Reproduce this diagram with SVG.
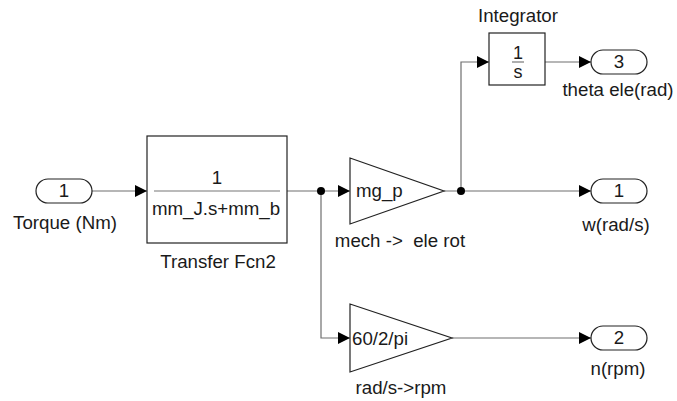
<svg xmlns="http://www.w3.org/2000/svg" width="677" height="401" viewBox="0 0 677 401">
<style>
text{font-family:"Liberation Sans",Arial,sans-serif;font-size:18.7px;fill:#1a1a1a}
.c{text-anchor:middle}
.blk{fill:#fff;stroke:#222;stroke-width:1.2}
.ln{fill:none;stroke:#6f6f6f;stroke-width:1.2}
.bar{stroke:#777;stroke-width:1.2}
</style>
<defs>
<marker id="ah" markerUnits="userSpaceOnUse" markerWidth="13" markerHeight="13" refX="12" refY="6.5" orient="auto">
<path d="M0,0.5 L12,6.5 L0,12.5 Z" fill="#000"/>
</marker>
</defs>
<rect width="677" height="401" fill="#fff"/>
<g id="connectors">
<path class="ln" d="M92,191 H147" marker-end="url(#ah)"/>
<path class="ln" d="M287,191 H350" marker-end="url(#ah)"/>
<path class="ln" d="M321,191 V338 H350" marker-end="url(#ah)"/>
<path class="ln" d="M444,191 H591" marker-end="url(#ah)"/>
<path class="ln" d="M461,191 V62 H489" marker-end="url(#ah)"/>
<path class="ln" d="M545,62 H591" marker-end="url(#ah)"/>
<path class="ln" d="M452,338 H591" marker-end="url(#ah)"/>
<circle cx="321" cy="191" r="4" fill="#000"/>
<circle cx="461" cy="191" r="4" fill="#000"/>
</g>
<g id="in1">
<rect class="blk" x="36" y="179" width="56" height="24" rx="12"/>
<text class="c" x="64" y="197">1</text>
<text class="c" x="65" y="229">Torque (Nm)</text>
</g>
<g id="tf">
<rect class="blk" x="147" y="136" width="140" height="107"/>
<text class="c" x="217" y="184">1</text>
<line class="bar" x1="154" y1="191" x2="280" y2="191"/>
<text class="c" x="216" y="215">mm_J.s+mm_b</text>
<text class="c" x="218" y="268">Transfer Fcn2</text>
</g>
<g id="gain1">
<path class="blk" d="M350,158 L444,191 L350,224 Z"/>
<text x="356" y="197">mg_p</text>
<text class="c" x="400" y="247" xml:space="preserve">mech -&gt;  ele rot</text>
</g>
<g id="integrator">
<rect class="blk" x="489" y="33" width="56" height="52"/>
<text class="c" x="518" y="59" style="font-size:18px">1</text>
<line class="bar" x1="512" y1="62" x2="524" y2="62"/>
<text class="c" x="518" y="78" style="font-size:18px">s</text>
<text class="c" x="518" y="22">Integrator</text>
</g>
<g id="out3">
<rect class="blk" x="591" y="50" width="56" height="24" rx="12"/>
<text class="c" x="619" y="68">3</text>
<text class="c" x="618" y="96">theta ele(rad)</text>
</g>
<g id="out1">
<rect class="blk" x="591" y="179" width="56" height="24" rx="12"/>
<text class="c" x="619" y="197">1</text>
<text class="c" x="616" y="231">w(rad/s)</text>
</g>
<g id="gain2">
<path class="blk" d="M350,304 L452,338 L350,372 Z"/>
<text x="352" y="345">60/2/pi</text>
<text class="c" x="401" y="394">rad/s-&gt;rpm</text>
</g>
<g id="out2">
<rect class="blk" x="591" y="326" width="56" height="24" rx="12"/>
<text class="c" x="619" y="344">2</text>
<text class="c" x="618" y="375">n(rpm)</text>
</g>
</svg>
